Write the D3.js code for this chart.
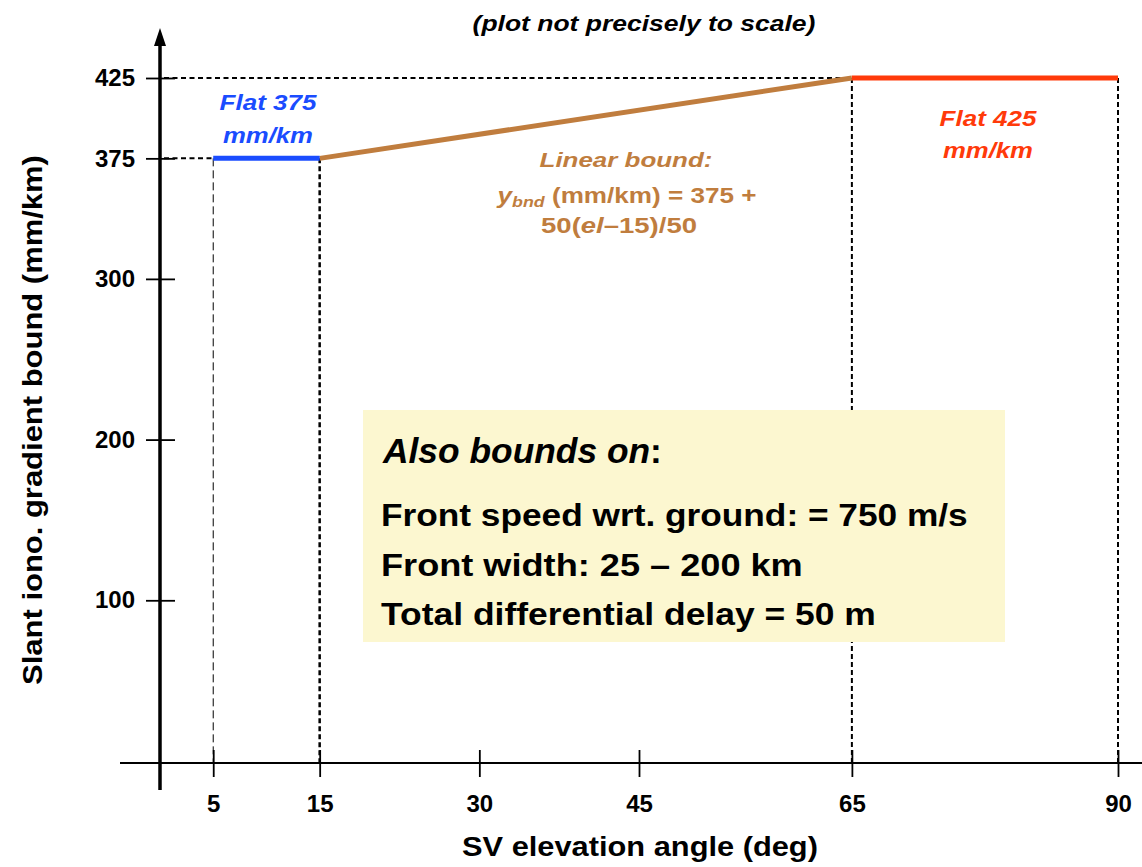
<!DOCTYPE html>
<html><head><meta charset="utf-8">
<script src="https://cdn.jsdelivr.net/npm/d3@7"></script>
<style>body{margin:0;background:#fff}svg{display:block;font-family:"Liberation Sans",Arial,sans-serif}</style>
</head><body>
<svg id="c" width="1142" height="867"></svg>
<script>
const xTicks = [5, 15, 30, 45, 65, 90];
const yTicks = [100, 200, 300, 375, 425];
const flat375 = [[5, 375], [15, 375]];
const linearBound = [[15, 375], [65, 425]];
const flat425 = [[65, 425], [90, 425]];
const boxTitle = "Also bounds on";
const boxLines = ["Front speed wrt. ground: = 750 m/s", "Front width:  25 \u2013 200 km", "Total differential delay = 50 m"];

const svg = d3.select("#c");
const x = d3.scaleLinear().domain([0, 90]).range([160, 1118]);
const y = d3.scaleLinear().domain([0, 425]).range([761, 78]);
const axisY = 763;
const FONT = "Liberation Sans, Arial, sans-serif";

// place a text at anchor, stretched horizontally to width w
function fitText(ax, ay, w, build, extra) {
  const g = svg.append("g");
  const t = g.append("text").attr("x", 0).attr("y", 0);
  build(t);
  const cur = t.node().getComputedTextLength();
  const s = w / cur;
  g.attr("transform", `translate(${ax},${ay})` + (extra || "") + ` scale(${s},1)`);
  return t;
}

// reference dashed lines
const dash = svg.append("g").attr("fill", "none").attr("stroke", "#000");
dash.append("line").attr("x1", x(0) + 4).attr("x2", x(65)).attr("y1", y(425)).attr("y2", y(425))
  .attr("stroke-width", 2).attr("stroke-dasharray", "5,3.5");
dash.append("line").attr("x1", x(0) + 4).attr("x2", x(5)).attr("y1", y(375)).attr("y2", y(375))
  .attr("stroke-width", 2).attr("stroke-dasharray", "5,3.5");
dash.append("line").attr("x1", x(5)).attr("x2", x(5)).attr("y1", y(375)).attr("y2", axisY)
  .attr("stroke-width", 1).attr("stroke-dasharray", "8,4");
dash.append("line").attr("x1", x(15)).attr("x2", x(15)).attr("y1", y(375)).attr("y2", axisY)
  .attr("stroke-width", 2.5).attr("stroke-dasharray", "5,3");
[65, 90].forEach(v => dash.append("line").attr("x1", x(v)).attr("x2", x(v)).attr("y1", y(425)).attr("y2", axisY)
  .attr("stroke-width", 2).attr("stroke-dasharray", "5,3"));

// yellow box (covers the dashed line)
svg.append("rect").attr("x", 363).attr("y", 410).attr("width", 642).attr("height", 232).attr("fill", "#fcf7d0");

// bound lines
const line = d3.line().x(d => x(d[0])).y(d => y(d[1]));
svg.append("path").attr("d", line(linearBound)).attr("stroke", "#c07d3e").attr("stroke-width", 5).attr("fill", "none");
svg.append("path").attr("d", line(flat375)).attr("stroke", "#1a4cff").attr("stroke-width", 5).attr("fill", "none");
svg.append("path").attr("d", line(flat425)).attr("stroke", "#ff3a0a").attr("stroke-width", 5).attr("fill", "none");

// x axis
svg.append("line").attr("x1", 120).attr("x2", 1142).attr("y1", axisY).attr("y2", axisY).attr("stroke", "#000").attr("stroke-width", 2);
const xAxis = d3.axisBottom(x).tickValues(xTicks).tickSize(14).tickPadding(18).tickFormat(d3.format("d"));
const gx = svg.append("g").attr("transform", `translate(0,${axisY})`).call(xAxis);
gx.attr("font-size", null).attr("font-family", null);
gx.select(".domain").remove();
gx.selectAll(".tick line").attr("y1", -13).attr("y2", 14).attr("stroke-width", 1.8);
gx.selectAll(".tick text").attr("y", 32).attr("font-size", 24).attr("font-weight", "bold").attr("font-family", FONT).attr("fill", "#000");

// y axis
svg.append("line").attr("x1", x(0)).attr("x2", x(0)).attr("y1", 40).attr("y2", 790).attr("stroke", "#000").attr("stroke-width", 3.5);
svg.append("path").attr("d", d3.line()([[x(0), 28], [x(0) - 6, 46], [x(0) + 6, 46]]) + "Z").attr("fill", "#000");
const yAxis = d3.axisLeft(y).tickValues(yTicks).tickSize(14).tickPadding(11).tickFormat(d3.format("d"));
const gy = svg.append("g").attr("transform", `translate(${x(0)},0)`).call(yAxis);
gy.attr("font-size", null).attr("font-family", null);
gy.select(".domain").remove();
gy.selectAll(".tick line").attr("x1", -14).attr("x2", 15).attr("stroke-width", 1.8);
gy.selectAll(".tick text").attr("font-size", 24).attr("font-weight", "bold").attr("font-family", FONT).attr("fill", "#000");

// titles
fitText(644, 31, 343, t => t.attr("text-anchor", "middle").attr("font-size", 23)
  .attr("font-weight", "bold").attr("font-style", "italic").text("(plot not precisely to scale)"));
fitText(640, 856, 356, t => t.attr("text-anchor", "middle").attr("font-size", 27)
  .attr("font-weight", "bold").text("SV elevation angle (deg)"));
fitText(42, 420, 530, t => t.attr("text-anchor", "middle").attr("font-size", 27)
  .attr("font-weight", "bold").text("Slant iono. gradient bound (mm/km)"), " rotate(-90)");

// annotations
function ann(txt, cx, by, w, color, size) {
  return fitText(cx, by, w, t => t.attr("text-anchor", "middle").attr("font-size", size || 22)
    .attr("font-weight", "bold").attr("font-style", "italic").attr("fill", color).text(txt));
}
const blue = "#1a4cff", red = "#ff3a0a", brown = "#c07d3e";
ann("Flat 375", 268, 110, 97, blue);
ann("mm/km", 268, 143, 90, blue);
ann("Flat 425", 988, 126, 97, red);
ann("mm/km", 988, 158, 90, red);
ann("Linear bound:", 626, 167, 173, brown, 21);
fitText(627, 203, 259, t => {
  t.attr("text-anchor", "middle").attr("font-size", 22).attr("font-weight", "bold").attr("fill", brown);
  t.append("tspan").attr("font-style", "italic").text("y");
  t.append("tspan").attr("font-style", "italic").attr("font-size", 15).attr("dy", 4).text("bnd");
  t.append("tspan").attr("dy", -4).text(" (mm/km) = 375 +");
});
fitText(619, 233, 156, t => {
  t.attr("text-anchor", "middle").attr("font-size", 22).attr("font-weight", "bold").attr("fill", brown);
  t.append("tspan").text("50(");
  t.append("tspan").attr("font-style", "italic").text("el");
  t.append("tspan").text("\u201315)/50");
});

// box text
fitText(383, 463, 279, t => {
  t.attr("font-size", 35).attr("font-style", "italic").attr("font-weight", "bold").text(boxTitle);
  t.append("tspan").attr("font-style", "normal").text(":");
});
const boxWidths = [587, 422, 495];
const boxBase = [526, 576, 625];
boxLines.forEach((s, i) => fitText(381, boxBase[i], boxWidths[i], t => t.attr("font-size", 32).attr("font-weight", "bold").text(s)));
</script>
</body></html>
